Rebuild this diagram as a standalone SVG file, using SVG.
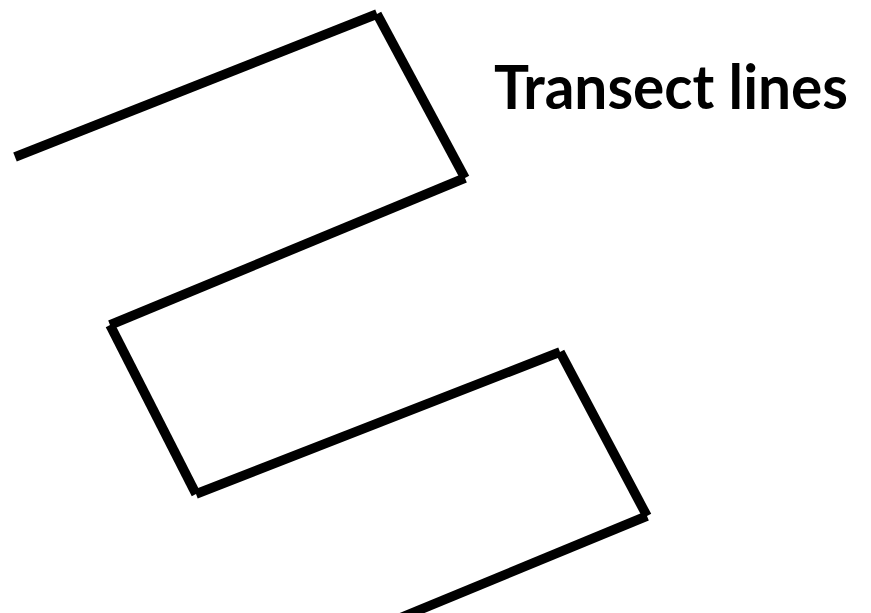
<svg xmlns="http://www.w3.org/2000/svg" width="871" height="613" viewBox="0 0 871 613">
<style>
.seg{stroke:#000;stroke-width:9.5;fill:none;stroke-linecap:butt}
.lbl{font-family:Lato,"Open Sans","Liberation Sans",sans-serif;font-weight:bold;font-size:62px;fill:#000}
</style>
<rect width="871" height="613" fill="#fff"/>
<g id="transect">
<line class="seg" x1="15" y1="157" x2="377" y2="14"/>
<line class="seg" x1="377" y1="14" x2="465" y2="178"/>
<line class="seg" x1="465" y1="178" x2="110" y2="325"/>
<line class="seg" x1="110" y1="325" x2="196" y2="494"/>
<line class="seg" x1="196" y1="494" x2="560" y2="352"/>
<line class="seg" x1="560" y1="352" x2="647" y2="516"/>
<line class="seg" x1="647" y1="516" x2="383" y2="625"/>
</g>
<g id="label">
<text class="lbl" x="494" y="109" textLength="354" lengthAdjust="spacingAndGlyphs">Transect lines</text>
</g>
</svg>
